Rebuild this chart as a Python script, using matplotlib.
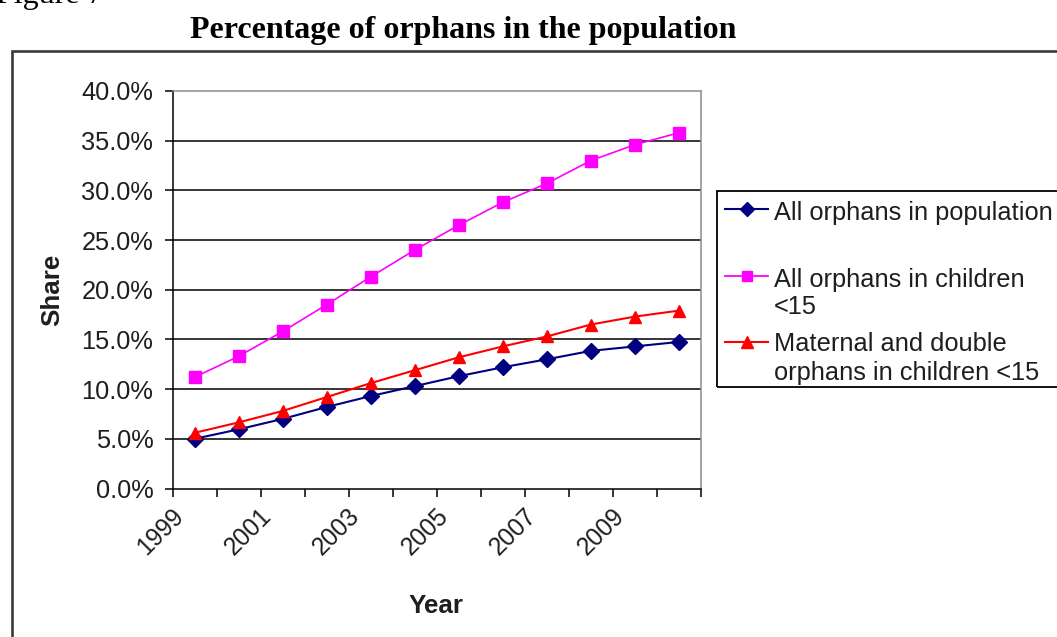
import matplotlib
matplotlib.use("Agg")
import matplotlib.pyplot as plt
import matplotlib.transforms as mtransforms
from matplotlib.lines import Line2D
from matplotlib.patches import Rectangle

# ---- data -------------------------------------------------------------
years = [1999, 2000, 2001, 2002, 2003, 2004, 2005, 2006, 2007, 2008, 2009, 2010]
all_orphans_population = [5.0, 5.95, 7.0, 8.2, 9.3, 10.3, 11.3, 12.2, 13.0, 13.85, 14.3, 14.75]
all_orphans_children = [11.2, 13.3, 15.8, 18.5, 21.3, 24.0, 26.5, 28.8, 30.7, 33.0, 34.6, 35.8]
maternal_double_children = [5.6, 6.65, 7.8, 9.2, 10.6, 11.9, 13.2, 14.3, 15.3, 16.5, 17.3, 17.9]

series_labels = [
    ["All orphans in population"],
    ["All orphans in children", "<15"],
    ["Maternal and double", "orphans in children <15"],
]
y_ticks = [0, 5, 10, 15, 20, 25, 30, 35, 40]
x_label_years = [1999, 2001, 2003, 2005, 2007, 2009]

# ---- figure -----------------------------------------------------------
W, H = 1057, 637
DPI = 100
SANS = "Liberation Sans"
SERIF = "Liberation Serif"
TXT = "#1e1e1e"
FS = 18.3

fig = plt.figure(figsize=(W / DPI, H / DPI), dpi=DPI)
fig.patch.set_facecolor("white")


def fx(px):
    return px / W


def fy(py):
    return 1 - py / H


# caption and title above the chart frame
fig.text(fx(-4), fy(3), "Figure 7", fontsize=23, family=SERIF, color="black",
         ha="left", va="baseline")
fig.text(fx(463.5), fy(38), "Percentage of orphans in the population",
         fontsize=23, family=SERIF, weight="bold", color="black",
         ha="center", va="baseline")

# outer chart frame (runs off the right and bottom edges)
fig.patches.append(Rectangle((fx(12), fy(700)), fx(1100), fy(51) - fy(700),
                             transform=fig.transFigure, fill=False,
                             edgecolor="#3a3a3a", linewidth=1.9, zorder=0))

# ---- plot area --------------------------------------------------------
left, right, top, bottom = 172.5, 701.0, 91.0, 488.5
ax = fig.add_axes([fx(left), fy(bottom), fx(right - left), fy(top) - fy(bottom)])
ax.set_facecolor("white")

x = list(range(len(years)))
ax.plot(x, all_orphans_population, color="#000080", linewidth=1.5,
        marker="D", markersize=8.3, markerfacecolor="#000080",
        markeredgecolor="#000080", zorder=5)
ax.plot(x, all_orphans_children, color="#ff00ff", linewidth=1.2,
        marker="s", markersize=8.7, markerfacecolor="#ff00ff",
        markeredgecolor="#ff00ff", zorder=5)
ax.plot(x, maternal_double_children, color="#ff0000", linewidth=1.5,
        marker="^", markersize=9.3, markerfacecolor="#ff0000",
        markeredgecolor="#ff0000", zorder=5)

ax.set_xlim(-0.5, len(years) - 0.5)
ax.set_ylim(0, 40)

# horizontal gridlines
for v in y_ticks[1:-1]:
    ax.axhline(v, color="black", linewidth=1.1, zorder=1)

for side in ("top", "right"):
    ax.spines[side].set_color("#8c8c8c")
    ax.spines[side].set_linewidth(1.1)
for side in ("left", "bottom"):
    ax.spines[side].set_color("black")
    ax.spines[side].set_linewidth(1.1)

ax.set_yticks(y_ticks)
ax.set_yticklabels([f"{v:.1f}%" for v in y_ticks])
ax.tick_params(axis="y", direction="out", length=5.8, width=1.1, color="black",
               pad=8, labelsize=FS, labelcolor=TXT)
for lab in ax.get_yticklabels():
    lab.set_family(SANS)

# tick marks on category boundaries, labels at category centres
ax.set_xticks([i - 0.5 for i in range(len(years) + 1)], minor=True)
ax.tick_params(axis="x", which="minor", direction="out", length=5.8,
               width=1.1, color="black")
ax.set_xticks([years.index(y) for y in x_label_years])
ax.set_xticklabels([str(y) for y in x_label_years], rotation=45,
                   ha="right", va="top")
ax.tick_params(axis="x", which="major", length=0, pad=11, labelsize=FS - 0.6,
               labelcolor=TXT)
shift = mtransforms.ScaledTranslation(-6 / DPI, 0, fig.dpi_scale_trans)
for lab in ax.get_xticklabels():
    lab.set_family(SANS)
    lab.set_transform(lab.get_transform() + shift)

ax.set_xlabel("Year", fontsize=FS + 0.4, family=SANS, weight="bold", color=TXT,
              va="center")
ax.xaxis.set_label_coords(0.4986, (bottom - 606) / (bottom - top))
ax.set_ylabel("Share", fontsize=FS + 0.4, family=SANS, weight="bold", color=TXT,
              va="center")
ax.yaxis.set_label_coords((52 - left) / (right - left), 0.5)

# ---- legend -----------------------------------------------------------
fig.patches.append(Rectangle((fx(717), fy(387)), fx(400), fy(191) - fy(387),
                             transform=fig.transFigure, fill=False,
                             edgecolor="black", linewidth=1.3, zorder=3))
legend_styles = [
    dict(color="#000080", marker="D", markersize=7, linewidth=1.5),
    dict(color="#ff00ff", marker="s", markersize=7.8, linewidth=1.3),
    dict(color="#ff0000", marker="^", markersize=8.3, linewidth=1.5),
]
handle_y = [209, 276, 342]
text_y = [[213], [280, 307], [344, 373]]
for style, hy, lines, ty in zip(legend_styles, handle_y, series_labels, text_y):
    fig.lines.append(Line2D([fx(725), fx(768)], [fy(hy), fy(hy)],
                            transform=fig.transFigure,
                            markevery=[], **style))
    fig.lines.append(Line2D([fx(746.5)], [fy(hy)], transform=fig.transFigure,
                            linestyle="none", marker=style["marker"],
                            markersize=style["markersize"],
                            color=style["color"]))
    for line, yy in zip(lines, ty):
        fig.text(fx(774), fy(yy), line, fontsize=FS, family=SANS,
                 color=TXT, ha="left", va="center")

fig.savefig("out.png", dpi=DPI, facecolor="white")
